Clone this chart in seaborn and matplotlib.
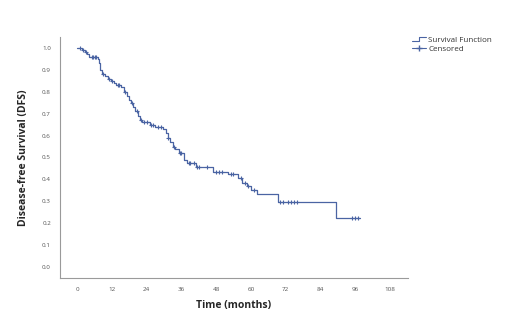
import numpy as np
import pandas as pd
import matplotlib
matplotlib.use("Agg")
import matplotlib.pyplot as plt
from matplotlib.lines import Line2D
from matplotlib.legend_handler import HandlerBase
import seaborn as sns

# Kaplan-Meier step estimate (month, survival after the event)
event_months = [0, 1.5, 2.5, 3.5, 4, 7, 7.5, 8, 8.5, 9.5, 10.5, 11.5, 12.5, 13.5,
                15, 16, 17, 17.8, 18.5, 19.3, 20, 20.8, 21.5, 22.5, 25, 27, 29.5,
                30.5, 31.2, 32, 33, 33.8, 35, 37, 37.8, 41, 47, 52, 55.5, 57,
                58.5, 60, 62, 69.5, 89.5, 97.6]
survival = [1.0, 0.99, 0.98, 0.97, 0.96, 0.95, 0.93, 0.90, 0.88, 0.87, 0.86, 0.85,
            0.84, 0.83, 0.82, 0.80, 0.78, 0.76, 0.75, 0.73, 0.71, 0.69, 0.67, 0.66,
            0.65, 0.64, 0.63, 0.61, 0.59, 0.57, 0.55, 0.54, 0.52, 0.49, 0.475,
            0.455, 0.435, 0.425, 0.405, 0.385, 0.37, 0.35, 0.333, 0.297, 0.224,
            0.224]

# Censored follow-up times (months)
censor_months = [1, 2, 3, 5, 5.5, 6, 6.5, 9, 11, 12, 14, 14.5, 16.5, 19, 20.5, 22,
                 23, 24, 25.5, 26, 28, 29, 31.5, 33.5, 35.5, 36, 38.5, 39, 40.5,
                 41.5, 42, 45, 48, 49, 50, 53, 54, 56.5, 58, 59, 61, 70, 71, 73,
                 74, 75, 76, 95, 96, 97]

x_ticks = list(range(0, 109, 12))
y_ticks = [round(v * 0.1, 1) for v in range(11)]

line_color = "#4a64a3"
axis_color = "#9a9a9a"
tick_text = "#555555"

sns.set_style("white")
plt.rcParams["font.family"] = ["Open Sans", "DejaVu Sans"]

fig = plt.figure(figsize=(5.13, 3.24), dpi=100)
ax = fig.add_axes([0.117, 0.142, 0.678, 0.744])

curve = pd.DataFrame({"month": event_months, "surv": survival})
sns.lineplot(data=curve, x="month", y="surv", drawstyle="steps-post",
             estimator=None, color=line_color, linewidth=0.9, ax=ax)

# censor marks sit on the step curve at their follow-up time
idx = np.searchsorted(np.array(event_months), np.array(censor_months), side="right") - 1
censors = pd.DataFrame({"month": censor_months,
                        "surv": np.array(survival)[idx]})
sns.scatterplot(data=censors, x="month", y="surv", marker="+", s=10,
                color=line_color, linewidth=0.8, ax=ax, zorder=3)

ax.set_xlim(-6, 114.3)
ax.set_ylim(-0.05, 1.05)
ax.set_xticks(x_ticks)
ax.set_yticks(y_ticks)
ax.set_xticklabels([str(t) for t in x_ticks])
ax.set_yticklabels([f"{t:.1f}" for t in y_ticks])
ax.tick_params(axis="both", labelsize=4.5, labelcolor=tick_text, color=axis_color,
               length=2.5, width=0.6, direction="out", pad=4)
for side in ("top", "right"):
    ax.spines[side].set_visible(False)
for side in ("left", "bottom"):
    ax.spines[side].set_color(axis_color)
    ax.spines[side].set_linewidth(0.8)

ax.set_xlabel("Time (months)", fontsize=7.5, fontweight="bold", labelpad=6)
ax.set_ylabel("Disease-free Survival (DFS)", fontsize=7.5, fontweight="bold",
              labelpad=9)


class StepHandler(HandlerBase):
    def create_artists(self, legend, orig_handle, xdescent, ydescent, width,
                       height, fontsize, trans):
        xs = [-xdescent, -xdescent + width * 0.5, -xdescent + width * 0.5,
              -xdescent + width]
        ys = [height * 0.25, height * 0.25, height * 0.85, height * 0.85]
        ln = Line2D(xs, ys, color=line_color, linewidth=0.8, transform=trans)
        return [ln]


surv_handle = Line2D([], [], color=line_color)
cens_handle = Line2D([], [], color=line_color, marker="+", markersize=5,
                     linewidth=0.8)
fig.legend([surv_handle, cens_handle], ["Survival Function", "Censored"],
           handler_map={surv_handle: StepHandler()},
           loc="upper left", bbox_to_anchor=(0.792, 0.905), frameon=False,
           fontsize=5.8, handlelength=1.8, handletextpad=0.2, labelspacing=0.1,
           borderpad=0.2, labelcolor="#333333")

fig.savefig("out.png", dpi=100)
